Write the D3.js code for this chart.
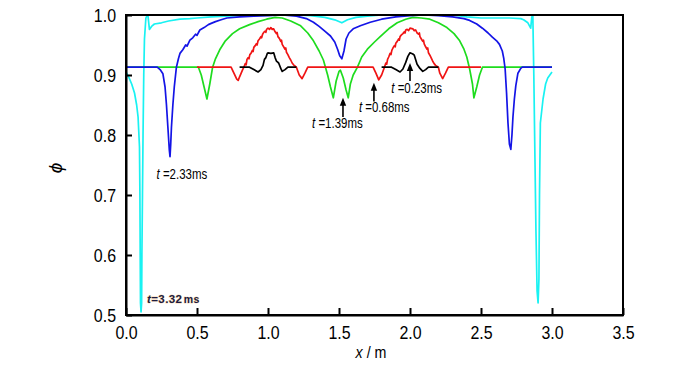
<!DOCTYPE html>
<html><head><meta charset="utf-8">
<script src="https://cdn.jsdelivr.net/npm/d3@7"></script>
<style>
html,body{margin:0;padding:0;background:#fff;}
svg{display:block;}
text{font-family:"Liberation Sans",Arial,sans-serif;}
</style></head>
<body>
<svg id="chart" width="700" height="365"></svg>
<script>
// ---------- data ----------
const xTicks = [0.0, 0.5, 1.0, 1.5, 2.0, 2.5, 3.0, 3.5];
const yTicks = [0.5, 0.6, 0.7, 0.8, 0.9, 1.0];

// t = 3.32 ms (cyan)
const cyanSeries = [[0,0.905],[0.02,0.896],[0.04,0.885],[0.06,0.870],[0.075,0.850],[0.085,0.830],[0.095,0.780],[0.098,0.700],[0.100,0.600],[0.102,0.520],[0.106,0.505],[0.110,0.520],[0.112,0.600],[0.116,0.700],[0.120,0.800],[0.125,0.900],[0.13,0.960],[0.14,0.995],[0.15,1.0],[0.155,0.998],[0.165,0.976],[0.18,0.981],[0.2,0.985],[0.25,0.987],[0.3,0.990],[0.38,0.993],[0.45,0.994],[0.5,0.995],[0.6,0.997],[0.7,0.998],[0.8,0.999],[1.0,1.0],[1.2,1.0],[1.3,0.999],[1.4,0.996],[1.47,0.992],[1.52,0.987],[1.56,0.992],[1.62,0.996],[1.7,0.998],[1.8,1.0],[2.3,1.0],[2.4,0.997],[2.5,0.995],[2.6,0.995],[2.7,0.995],[2.78,0.994],[2.80,0.992],[2.83,0.987],[2.85,0.978],[2.858,0.997],[2.865,1.0],[2.872,0.900],[2.880,0.760],[2.887,0.640],[2.895,0.540],[2.902,0.520],[2.908,0.560],[2.912,0.700],[2.918,0.820],[2.937,0.860],[2.955,0.885],[2.97,0.895],[3.0,0.905]];

// t = 2.33 ms (blue)
const blueSeries = [[0,0.913],[0.22,0.913],[0.24,0.909],[0.26,0.902],[0.275,0.880],[0.285,0.850],[0.295,0.813],[0.305,0.775],[0.31,0.764],[0.315,0.785],[0.32,0.813],[0.33,0.850],[0.34,0.880],[0.355,0.913],[0.37,0.928],[0.38,0.936],[0.40,0.942],[0.42,0.950],[0.43,0.948],[0.45,0.958],[0.47,0.962],[0.49,0.968],[0.50,0.966],[0.52,0.975],[0.55,0.979],[0.58,0.984],[0.60,0.986],[0.63,0.989],[0.67,0.992],[0.71,0.995],[0.80,0.997],[0.90,0.998],[1.0,0.999],[1.1,1.0],[1.2,0.998],[1.27,0.994],[1.32,0.988],[1.36,0.981],[1.40,0.973],[1.44,0.965],[1.47,0.955],[1.49,0.943],[1.505,0.932],[1.52,0.927],[1.535,0.940],[1.55,0.960],[1.57,0.970],[1.60,0.977],[1.65,0.982],[1.72,0.988],[1.80,0.993],[1.90,0.997],[2.0,0.999],[2.1,1.0],[2.2,0.999],[2.3,0.997],[2.38,0.994],[2.42,0.991],[2.47,0.985],[2.51,0.978],[2.55,0.970],[2.58,0.963],[2.61,0.957],[2.63,0.951],[2.65,0.940],[2.66,0.928],[2.67,0.910],[2.68,0.870],[2.69,0.820],[2.70,0.785],[2.71,0.776],[2.718,0.800],[2.725,0.830],[2.735,0.860],[2.745,0.882],[2.76,0.903],[2.78,0.911],[2.79,0.913],[3.0,0.913]];

// t = 1.39 ms (green)
const greenSeries = [[0,0.913],[0.51,0.913],[0.53,0.900],[0.55,0.880],[0.57,0.860],[0.59,0.885],[0.61,0.913],[0.63,0.927],[0.66,0.942],[0.70,0.957],[0.75,0.969],[0.80,0.977],[0.87,0.984],[0.93,0.989],[0.99,0.993],[1.05,0.996],[1.10,0.995],[1.16,0.990],[1.23,0.982],[1.28,0.970],[1.32,0.957],[1.36,0.940],[1.39,0.925],[1.42,0.900],[1.44,0.880],[1.46,0.862],[1.48,0.890],[1.50,0.906],[1.51,0.908],[1.53,0.895],[1.55,0.875],[1.565,0.862],[1.58,0.885],[1.60,0.900],[1.63,0.913],[1.66,0.930],[1.70,0.943],[1.75,0.955],[1.79,0.964],[1.85,0.977],[1.91,0.987],[1.97,0.993],[2.02,0.996],[2.08,0.995],[2.14,0.993],[2.20,0.987],[2.26,0.979],[2.31,0.969],[2.35,0.957],[2.38,0.943],[2.40,0.930],[2.42,0.910],[2.44,0.885],[2.45,0.862],[2.47,0.880],[2.49,0.900],[2.51,0.913],[3.0,0.913]];

// t = 0.68 ms (red)
const redSeries = [[0.50,0.913],[0.74,0.913],[0.76,0.903],[0.78,0.893],[0.79,0.891],[0.80,0.897],[0.82,0.908],[0.83,0.913],[0.84,0.919],[0.846,0.917],[0.852,0.926],[0.86,0.929],[0.866,0.927],[0.872,0.934],[0.88,0.936],[0.89,0.941],[0.895,0.939],[0.90,0.946],[0.91,0.949],[0.918,0.952],[0.923,0.950],[0.93,0.957],[0.94,0.960],[0.95,0.964],[0.955,0.962],[0.962,0.968],[0.97,0.971],[0.98,0.973],[0.985,0.971],[0.99,0.976],[1.00,0.978],[1.01,0.976],[1.02,0.979],[1.03,0.976],[1.04,0.977],[1.05,0.972],[1.06,0.969],[1.064,0.971],[1.07,0.964],[1.08,0.961],[1.09,0.956],[1.095,0.958],[1.10,0.951],[1.11,0.947],[1.12,0.943],[1.125,0.945],[1.13,0.938],[1.14,0.934],[1.15,0.929],[1.16,0.925],[1.17,0.920],[1.18,0.917],[1.20,0.913],[1.22,0.900],[1.24,0.894],[1.26,0.903],[1.28,0.913],[1.74,0.913],[1.76,0.903],[1.78,0.892],[1.80,0.900],[1.82,0.913],[1.83,0.920],[1.836,0.918],[1.842,0.926],[1.85,0.930],[1.86,0.936],[1.866,0.934],[1.872,0.941],[1.88,0.945],[1.89,0.949],[1.896,0.947],[1.90,0.953],[1.91,0.956],[1.92,0.960],[1.925,0.958],[1.93,0.964],[1.94,0.967],[1.95,0.969],[1.96,0.972],[1.965,0.970],[1.97,0.975],[1.98,0.976],[1.99,0.974],[2.00,0.978],[2.02,0.977],[2.03,0.974],[2.04,0.975],[2.05,0.970],[2.06,0.968],[2.066,0.970],[2.07,0.964],[2.08,0.960],[2.09,0.956],[2.095,0.958],[2.10,0.952],[2.11,0.947],[2.12,0.943],[2.125,0.945],[2.13,0.937],[2.14,0.933],[2.15,0.928],[2.16,0.923],[2.17,0.919],[2.18,0.916],[2.20,0.913],[2.21,0.903],[2.23,0.894],[2.25,0.903],[2.27,0.913],[2.50,0.913]];

// t = 0.23 ms (black) - null marks the gap between the two bumps
const blackSeries = [[0.80,0.913],[0.87,0.913],[0.90,0.909],[0.93,0.905],[0.95,0.909],[0.965,0.916],[0.975,0.926],[0.985,0.929],[0.995,0.936],[1.00,0.937],[1.02,0.936],[1.04,0.937],[1.05,0.929],[1.06,0.923],[1.075,0.920],[1.09,0.911],[1.10,0.906],[1.12,0.909],[1.14,0.913],[1.20,0.913],null,[1.80,0.913],[1.87,0.913],[1.90,0.909],[1.93,0.905],[1.95,0.910],[1.97,0.921],[1.985,0.931],[2.00,0.937],[2.02,0.935],[2.03,0.933],[2.05,0.918],[2.07,0.911],[2.09,0.906],[2.11,0.909],[2.13,0.913],[2.20,0.913]];

const seriesOrder = ["t3.32","t1.39","t0.68","t0.23","t2.33"];
const seriesData = {"t3.32":cyanSeries,"t2.33":blueSeries,"t1.39":greenSeries,"t0.68":redSeries,"t0.23":blackSeries};
const seriesColor = {"t3.32":"#19f2f2","t2.33":"#1414e6","t1.39":"#1edc1e","t0.68":"#f01414","t0.23":"#000000"};

const labelText = ["2.33ms","1.39ms","0.68ms","0.23ms"];

// ---------- chart ----------
const svg = d3.select("#chart");
const X0 = 126, X1 = 623, Y0 = 315, Y1 = 15;
const x = d3.scaleLinear().domain([0,3.5]).range([X0,X1]);
const y = d3.scaleLinear().domain([0.5,1.0]).range([Y0,Y1]);
const SX = 0.84;

const line = d3.line().defined(d => d !== null).x(d => x(d[0])).y(d => y(d[1]));

const gLines = svg.append("g");
seriesOrder.forEach(k => {
  gLines.append("path")
    .datum(seriesData[k])
    .attr("fill","none")
    .attr("stroke",seriesColor[k])
    .attr("stroke-width",1.7)
    .attr("stroke-linejoin","round")
    .attr("d",line);
});

// frame
svg.append("rect").attr("x",X0).attr("y",Y1).attr("width",X1-X0).attr("height",Y0-Y1)
  .attr("fill","none").attr("stroke","#000").attr("stroke-width",2);

// axes
const xAxis = svg.append("g").attr("transform",`translate(0,${Y0})`)
  .call(d3.axisBottom(x).tickValues(xTicks).tickFormat(d3.format(".1f")).tickSizeInner(-7).tickSizeOuter(0).tickPadding(11));
const yAxis = svg.append("g").attr("transform",`translate(${X0},0)`)
  .call(d3.axisLeft(y).tickValues(yTicks).tickFormat(d3.format(".1f")).tickSizeInner(-6).tickSizeOuter(0).tickPadding(9));
[xAxis,yAxis].forEach(a=>{
  a.select(".domain").attr("stroke","#000").attr("stroke-width",2);
  a.selectAll(".tick line").attr("stroke","#000").attr("stroke-width",2);
  a.selectAll(".tick text").attr("font-size",19).attr("fill","#000")
    .attr("font-family","Liberation Sans, Arial, sans-serif");
});
xAxis.selectAll(".tick text").attr("transform",`scale(${SX},1)`);
yAxis.selectAll(".tick text").attr("x",-10/SX).attr("transform",`scale(${SX},1)`);

// axis titles
svg.append("text").attr("transform",`translate(62,168) rotate(-90)`)
  .attr("text-anchor","middle").attr("font-size",19)
  .attr("font-family","Liberation Serif, DejaVu Serif, serif").attr("font-style","italic")
  .text("\u03D5");
const xt = svg.append("text").attr("transform",`translate(371,358) scale(${SX},1)`)
  .attr("text-anchor","middle").attr("font-size",17);
xt.append("tspan").attr("font-style","italic").text("x");
xt.append("tspan").text(" / m");

// annotations (positions in data units)
function tLabel(dx, dphi, txt){
  const t = svg.append("text").attr("transform",`translate(${x(dx)},${y(dphi)}) scale(0.82,1)`)
    .attr("font-size",14).attr("fill","#000");
  t.append("tspan").attr("font-style","italic").text("t");
  t.append("tspan").text(" =" + txt);
}
tLabel(0.215, 0.727, labelText[0]);
tLabel(1.31, 0.812, labelText[1]);
tLabel(1.64, 0.838, labelText[2]);
tLabel(1.868, 0.870, labelText[3]);

function arrow(dx, phiTop, phiBot){
  const ax = x(dx), yt = y(phiTop), yb = y(phiBot);
  svg.append("line").attr("x1",ax).attr("x2",ax).attr("y1",yb).attr("y2",yt+5)
    .attr("stroke","#000").attr("stroke-width",1.6);
  svg.append("path").attr("d",`M${ax},${yt} L${ax-3.2},${yt+8} L${ax+3.2},${yt+8} Z`).attr("fill","#000");
}
arrow(1.528, 0.862, 0.830);
arrow(1.746, 0.887, 0.856);
arrow(2.000, 0.920, 0.890);

// t=3.32ms label
const t3 = svg.append("text").attr("x",x(0.148)).attr("y",y(0.52))
  .attr("font-size",11.5).attr("font-weight","bold").attr("fill","#1b1b40")
  .attr("stroke","#f3b463").attr("stroke-width",0.8).attr("stroke-opacity",0.55)
  .attr("paint-order","stroke").attr("letter-spacing",0.4);
t3.append("tspan").attr("font-style","italic").text("t");
t3.append("tspan").text("=3.32");
t3.append("tspan").attr("font-size",10.5).attr("dx",1.5).text("ms");
</script>
</body></html>
